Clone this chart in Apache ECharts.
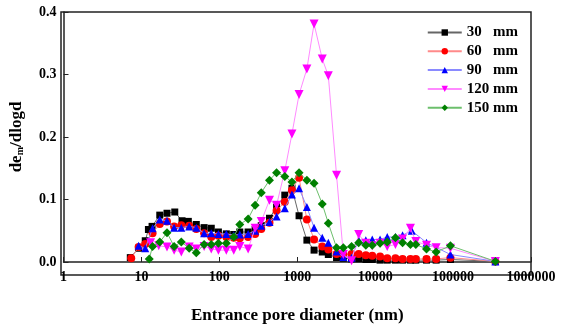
<!DOCTYPE html>
<html>
<head>
<meta charset="utf-8">
<script src="https://cdn.jsdelivr.net/npm/echarts@6/dist/echarts.min.js"></script>
<style>
  html, body { margin: 0; padding: 0; background: #fff; }
  #chart { width: 563px; height: 329px; }
</style>
</head>
<body>
<div id="chart"></div>
<script>
// Pore size distribution: entrance pore diameter (nm) vs dem/dlogd
const seriesNames = ['30   mm', '60   mm', '90   mm', '120 mm', '150 mm'];

const d30 = [[7.2,0.007],[9.2,0.022],[11.2,0.034],[12.3,0.052],[13.7,0.057],[17.2,0.075],[21.3,0.078],[26.8,0.080],[33.2,0.066],[40,0.065],[50.6,0.060],[63.8,0.055],[78.8,0.054],[97.3,0.048],[123,0.045],[153,0.044],[183,0.048],[234,0.048],[288,0.052],[345,0.058],[440,0.070],[543,0.088],[692,0.107],[855,0.118],[1055,0.074],[1330,0.035],[1643,0.019],[2094,0.016],[2506,0.012],[3194,0.007],[3902,0.006],[4975,0.005],[6142,0.005],[7586,0.004],[9169,0.004],[11560,0.003],[14280,0.003],[18200,0.003],[22480,0.003],[28370,0.003],[33220,0.003],[45590,0.003],[60590,0.003],[92500,0.004],[349000,0.001]];

const d60 = [[7.4,0.006],[9.2,0.024],[11.2,0.029],[13.9,0.046],[17.2,0.061],[21.3,0.065],[26.3,0.057],[32.5,0.059],[41,0.058],[50.6,0.053],[63.8,0.046],[78.8,0.040],[97.3,0.042],[123,0.040],[153,0.039],[183,0.038],[234,0.040],[288,0.045],[345,0.053],[440,0.063],[543,0.082],[692,0.096],[855,0.115],[1055,0.135],[1330,0.068],[1643,0.036],[2094,0.025],[2506,0.020],[3194,0.013],[3902,0.012],[4975,0.013],[6142,0.013],[7586,0.011],[9169,0.010],[11560,0.009],[14280,0.006],[18200,0.006],[22480,0.005],[28370,0.005],[33220,0.005],[45590,0.005],[60590,0.005],[92500,0.007],[349000,0.001]];

const d90 = [[9.2,0.026],[11.2,0.022],[13.9,0.054],[17.2,0.068],[21.3,0.066],[26.3,0.055],[32.5,0.055],[41,0.057],[50.6,0.055],[63.8,0.046],[78.8,0.046],[97.3,0.045],[123,0.045],[153,0.043],[183,0.044],[234,0.045],[288,0.050],[345,0.058],[440,0.064],[543,0.073],[692,0.086],[855,0.108],[1055,0.118],[1330,0.088],[1643,0.055],[2094,0.039],[2506,0.031],[3194,0.017],[3902,0.008],[4975,0.007],[6142,0.035],[7586,0.035],[9169,0.036],[11560,0.036],[14280,0.040],[18200,0.040],[22480,0.043],[29500,0.050],[45590,0.031],[92500,0.012],[349000,0.001]];

const d120 = [[13.1,0.031],[16.7,0.026],[21.3,0.024],[26.3,0.019],[32.5,0.016],[41,0.024],[50.6,0.021],[63.8,0.025],[78.8,0.021],[97.3,0.019],[123,0.019],[153,0.019],[183,0.025],[234,0.021],[288,0.054],[345,0.065],[440,0.099],[543,0.091],[692,0.146],[855,0.205],[1055,0.268],[1330,0.309],[1643,0.381],[2094,0.325],[2506,0.298],[3194,0.139],[3902,0.012],[4975,0.002],[6142,0.044],[7586,0.030],[9169,0.026],[11560,0.030],[14280,0.025],[18200,0.028],[22480,0.037],[28370,0.054],[33220,0.033],[45590,0.027],[60590,0.023],[92500,0.022],[349000,0.001]];

const d150 = [[12.6,0.005],[13.9,0.025],[17.2,0.032],[21.3,0.047],[26.3,0.025],[32.5,0.032],[41,0.022],[50.6,0.015],[63.8,0.028],[78.8,0.028],[97.3,0.030],[123,0.030],[153,0.040],[183,0.060],[234,0.069],[288,0.091],[345,0.111],[440,0.131],[543,0.143],[692,0.137],[855,0.128],[1055,0.143],[1330,0.131],[1643,0.126],[2094,0.093],[2506,0.062],[3194,0.023],[3902,0.023],[4975,0.025],[6142,0.031],[7586,0.027],[9169,0.027],[11560,0.030],[14280,0.032],[18200,0.039],[22480,0.031],[28370,0.028],[33220,0.028],[45590,0.021],[60590,0.016],[92500,0.026],[349000,0.001]];

const seriesData = [d30, d60, d90, d120, d150];
const markerColors = ['#000000', '#ff0000', '#0000ff', '#ff00ff', '#008000'];
const lineColors = ['#666666', '#ff8a8a', '#8a8aff', '#ff8aff', '#6cbf6c'];
const symbols = ['rect', 'circle', 'triangle', 'path://M0,0 L10,0 L5,9 Z', 'diamond'];
const symbolSizes = [7, 8, 8, 9, 9];

const yTicks = ['0.0', '0.1', '0.2', '0.3', '0.4'];

const font = '"Liberation Serif", "Times New Roman", serif';

const chart = echarts.init(document.getElementById('chart'), null, { renderer: 'canvas' });

chart.setOption({
  animation: false,
  backgroundColor: '#ffffff',
  grid: { left: 61, right: 32, top: 12, bottom: 54, containLabel: false },
  legend: {
    orient: 'vertical',
    right: 40,
    top: 20,
    itemWidth: 34,
    itemHeight: 8,
    itemGap: 3.8,
    textStyle: { fontFamily: font, fontWeight: 'bold', fontSize: 15, lineHeight: 15, color: '#000' },
    data: seriesNames
  },
  xAxis: {
    type: 'log',
    logBase: 10,
    min: 1,
    max: 1000000,
    name: 'Entrance pore diameter (nm)',
    nameLocation: 'middle',
    nameGap: 45,
    nameTextStyle: { fontFamily: font, fontWeight: 'bold', fontSize: 17, color: '#000' },
    axisLine: { onZero: false, lineStyle: { color: '#222', width: 1.5 } },
    axisTick: { inside: true, length: 5, lineStyle: { color: '#222' } },
    minorTick: { show: false },
    splitLine: { show: false },
    axisLabel: {
      fontFamily: font, fontWeight: 'bold', fontSize: 14, color: '#000', margin: 8,
      formatter: v => String(Math.round(v))
    }
  },
  yAxis: {
    type: 'value',
    min: 0,
    max: 0.4,
    interval: 0.1,
    name: 'de{sub|m}/dlogd',
    nameLocation: 'middle',
    nameGap: 38,
    nameRotate: 90,
    nameTextStyle: {
      fontFamily: font, fontWeight: 'bold', fontSize: 17, color: '#000',
      rich: { sub: { fontFamily: font, fontWeight: 'bold', fontSize: 10, verticalAlign: 'bottom', padding: [8, 0, 0, 0] } }
    },
    axisLine: { show: true, lineStyle: { color: '#222', width: 1.5 } },
    axisTick: { show: true, inside: true, length: 5, lineStyle: { color: '#222' } },
    splitLine: { show: false },
    axisLabel: {
      fontFamily: font, fontWeight: 'bold', fontSize: 14, color: '#000', margin: 7,
      formatter: v => yTicks[Math.round(v * 10)]
    }
  },
  graphic: [{
    type: 'rect',
    shape: { x: 61, y: 12, width: 470, height: 263 },
    style: { fill: 'none', stroke: '#222', lineWidth: 1.5 },
    silent: true,
    z: 0
  }],
  series: seriesData.map((data, i) => ({
    name: seriesNames[i],
    type: 'line',
    data: data,
    symbol: symbols[i],
    symbolSize: symbolSizes[i],
    showAllSymbol: true,
    lineStyle: { color: lineColors[i], width: 1 },
    itemStyle: { color: markerColors[i] },
    emphasis: { disabled: true },
    z: 2 + i
  }))
});
</script>
</body>
</html>
